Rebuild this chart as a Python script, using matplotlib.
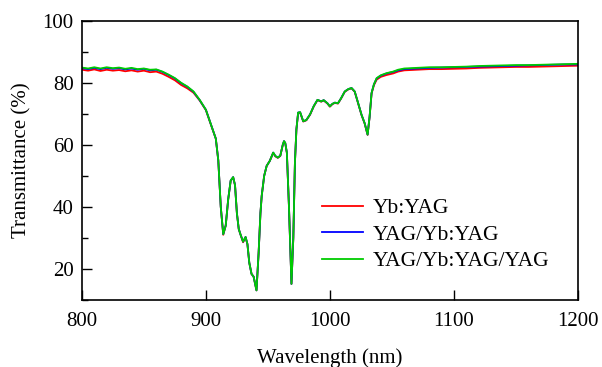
import matplotlib
matplotlib.use("Agg")
import matplotlib.pyplot as plt
from matplotlib.ticker import MultipleLocator

wavelength = [800, 805, 810, 815, 820, 825, 830, 835, 840, 845, 850, 855, 860, 865, 870,
              875, 880, 885, 890, 895, 900, 905, 908, 910, 912, 914, 916, 918, 920, 922,
              923.5, 925, 926.5, 928, 930, 932, 933.5, 935, 936.8, 938.5, 940.8, 942.5, 944,
              945, 947, 949, 951.5, 954.3, 956, 958, 960, 962, 963, 964, 965.3, 967, 969,
              970.5, 971.8, 973, 974.4, 976, 978.5, 981, 984, 987, 990, 993, 995, 998, 1000,
              1002, 1004, 1006.5, 1009, 1012, 1015, 1017.5, 1020, 1022, 1025.5, 1028, 1030.4,
              1032, 1033.6, 1035.5, 1037.7, 1041, 1045.7, 1051, 1055, 1060, 1070, 1080, 1090,
              1100, 1110, 1120, 1130, 1140, 1150, 1160, 1170, 1180, 1190, 1200]

t_yb_yag = [84.2, 83.9, 84.3, 83.8, 84.2, 83.9, 84.1, 83.7, 84.0, 83.6, 83.9, 83.4, 83.6, 82.9, 81.9,
            80.8, 79.3, 78.2, 76.8, 74.3, 71.2, 65.4, 62.0, 55.0, 40.0, 31.0, 34.0, 42.4, 48.4, 49.5,
            47.0, 38.0, 32.8, 31.0, 28.6, 30.2, 28.0, 22.0, 18.4, 17.5, 13.1, 25.0, 38.0,
            43.5, 50.0, 53.2, 54.8, 57.4, 56.3, 55.8, 56.4, 60.0, 61.1, 60.5, 57.4, 40.0, 15.2,
            30.0, 54.3, 65.0, 70.3, 70.4, 67.5, 67.9, 69.7, 72.4, 74.4, 73.9, 74.3, 73.3, 72.3,
            73.1, 73.5, 73.3, 74.9, 77.1, 77.9, 78.2, 77.1, 74.4, 69.6, 66.9, 63.2,
            68.9, 76.5, 79.2, 81.0, 81.9, 82.5, 83.0, 83.6, 84.0, 84.2, 84.4, 84.4,
            84.5, 84.6, 84.8, 84.9, 85.0, 85.1, 85.1, 85.2, 85.3, 85.4, 85.5]

t_yag_yb_yag = [84.7, 84.4, 84.8, 84.4, 84.8, 84.5, 84.7, 84.3, 84.6, 84.2, 84.5, 84.0, 84.2, 83.5, 82.5,
                81.4, 79.9, 78.7, 77.1, 74.4, 71.3, 65.5, 62.0, 55.0, 40.0, 31.2, 34.0, 42.5, 48.5, 49.6,
                47.0, 38.0, 32.9, 31.0, 28.8, 30.3, 28.0, 22.0, 18.4, 17.5, 13.1, 25.0, 38.0,
                43.5, 50.0, 53.2, 54.8, 57.5, 56.4, 55.9, 56.5, 60.0, 61.2, 60.6, 57.5, 40.0, 15.2,
                30.0, 54.3, 65.0, 70.4, 70.5, 67.6, 68.0, 69.8, 72.5, 74.5, 74.0, 74.4, 73.4, 72.4,
                73.2, 73.6, 73.4, 75.0, 77.2, 78.0, 78.3, 77.2, 74.5, 69.7, 67.0, 63.3,
                69.0, 76.7, 79.5, 81.4, 82.3, 83.0, 83.5, 84.0, 84.4, 84.6, 84.8, 84.9,
                85.0, 85.1, 85.2, 85.3, 85.4, 85.5, 85.6, 85.7, 85.8, 85.9, 85.9]

t_yag_yb_yag_yag = [84.9, 84.6, 85.0, 84.6, 85.0, 84.7, 84.9, 84.5, 84.8, 84.4, 84.6, 84.2, 84.3, 83.6, 82.6,
                    81.5, 80.0, 78.8, 77.2, 74.5, 71.3, 65.5, 62.0, 55.0, 40.0, 31.2, 34.0, 42.5, 48.5, 49.6,
                    47.0, 38.0, 32.9, 31.0, 28.8, 30.3, 28.0, 22.0, 18.4, 17.5, 13.1, 25.0, 38.0,
                    43.5, 50.0, 53.2, 54.8, 57.5, 56.4, 55.9, 56.5, 60.0, 61.2, 60.6, 57.5, 40.0, 15.2,
                    30.0, 54.3, 65.0, 70.4, 70.5, 67.6, 68.0, 69.8, 72.5, 74.5, 74.0, 74.4, 73.4, 72.4,
                    73.2, 73.6, 73.4, 75.0, 77.2, 78.0, 78.3, 77.2, 74.5, 69.7, 67.0, 63.3,
                    69.0, 76.7, 79.5, 81.5, 82.4, 83.1, 83.6, 84.2, 84.6, 84.8, 85.0, 85.0,
                    85.1, 85.2, 85.4, 85.5, 85.6, 85.7, 85.7, 85.8, 85.9, 86.0, 86.1]

labels = ["Yb:YAG", "YAG/Yb:YAG", "YAG/Yb:YAG/YAG"]
colors = ["#ff0000", "#0000ff", "#00cc00"]

plt.rcParams['font.family'] = ['Liberation Serif', 'DejaVu Serif']

fig = plt.figure(figsize=(6.02, 3.67), dpi=100)
ax = fig.add_axes([0.136, 0.1826, 0.824, 0.761])

for series, lab, col in zip([t_yb_yag, t_yag_yb_yag, t_yag_yb_yag_yag], labels, colors):
    ax.plot(wavelength, series, color=col, lw=1.3, label=lab)

ax.set_xlim(800, 1200)
ax.set_ylim(10, 100)
ax.set_xticks([800, 900, 1000, 1100, 1200])
ax.set_yticks([20, 40, 60, 80, 100])
ax.yaxis.set_minor_locator(MultipleLocator(10))
ax.tick_params(axis='both', which='major', direction='in', length=7, width=1.0,
               labelsize=15, top=False, right=False)
ax.tick_params(axis='x', which='major', pad=9)
ax.tick_params(axis='y', which='major', pad=6)
ax.tick_params(axis='y', which='minor', direction='in', length=4, width=1.0, right=False)
for s in ax.spines.values():
    s.set_linewidth(1.2)

ax.set_xlabel("Wavelength (nm)", fontsize=15, labelpad=12)
ax.set_ylabel("Transmittance (%)", fontsize=15, labelpad=8)

ax.legend(loc='upper left', bbox_to_anchor=(0.484, 0.365), frameon=False, fontsize=15.5,
          handlelength=1.9, handletextpad=0.45, labelspacing=0.3, borderaxespad=0, borderpad=0)

fig.savefig("out.png", dpi=100)
